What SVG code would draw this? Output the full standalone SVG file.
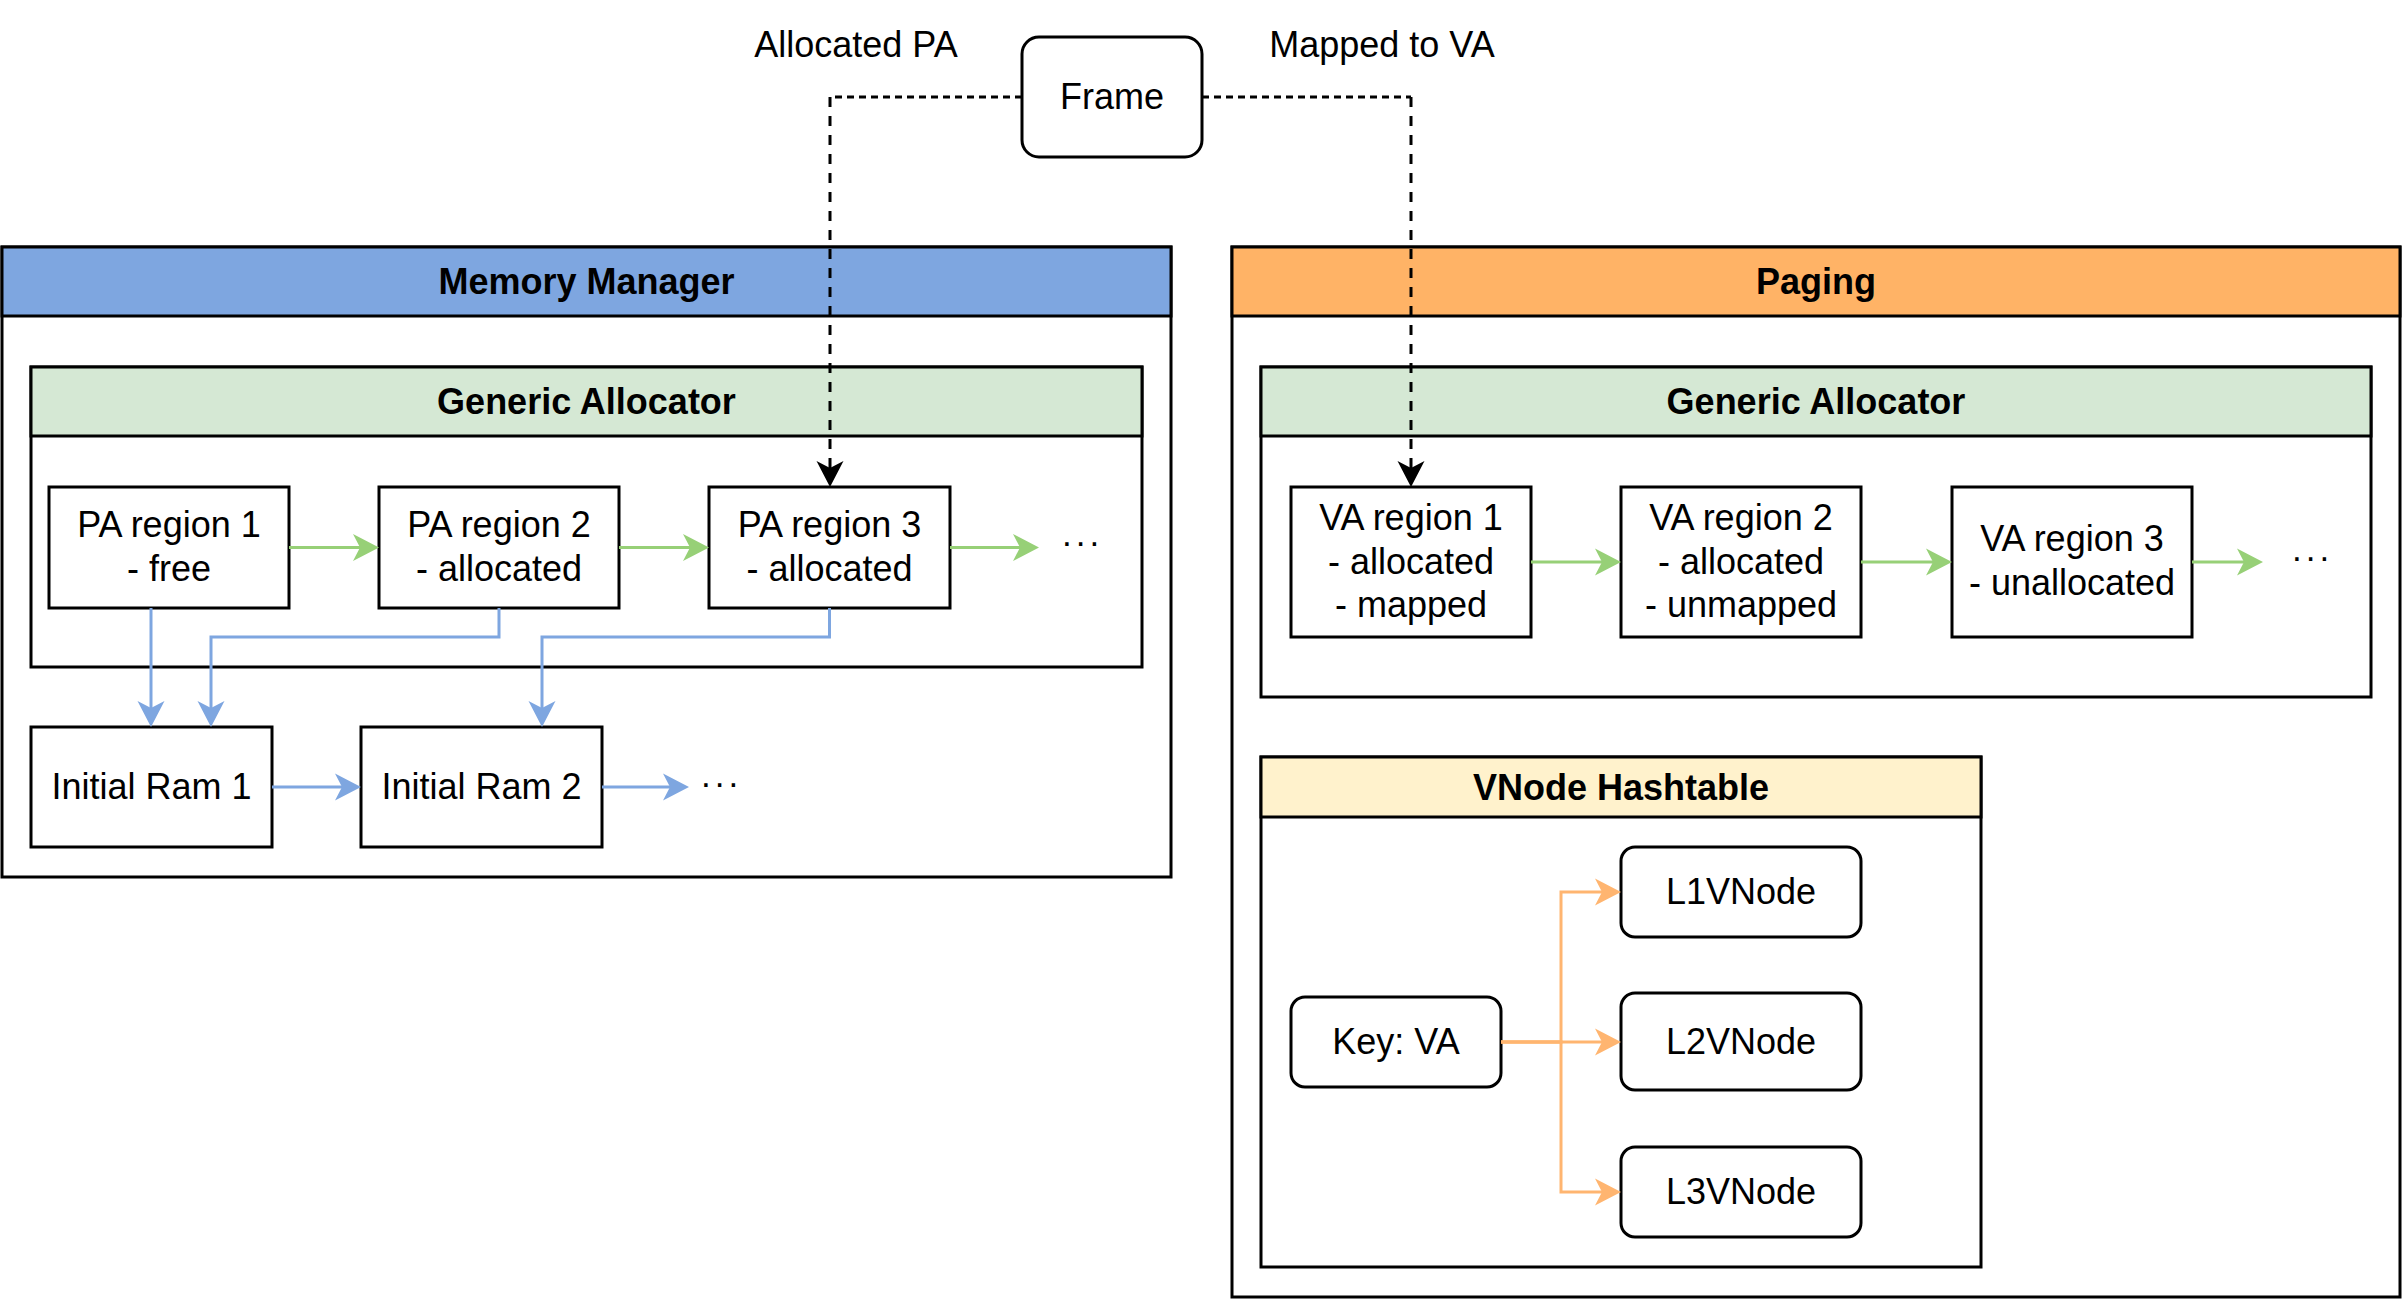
<svg xmlns="http://www.w3.org/2000/svg" width="2403" height="1299" viewBox="0 0 2403 1299">
<style>
  text { font-family: "Liberation Sans", Arial, sans-serif; font-size: 36px; fill: #000; }
  .c { text-anchor: middle; }
  .b { font-weight: bold; }
  .box { fill: #fff; stroke: #000; stroke-width: 3; }
  .hdr { stroke: #000; stroke-width: 3; }
  .g { fill: none; stroke: #97D077; stroke-width: 3; }
  .bl { fill: none; stroke: #7EA6E0; stroke-width: 3; }
  .o { fill: none; stroke: #FFB570; stroke-width: 3; }
  .dh { fill: none; stroke: #000; stroke-width: 3; stroke-dasharray: 7 5; }
  .dv { fill: none; stroke: #000; stroke-width: 3; stroke-dasharray: 10 9; }
  .dots { font-size: 35px; letter-spacing: 4px; }
</style>
<defs>
  <marker id="ag" markerUnits="userSpaceOnUse" viewBox="0 -14 27 28" refX="7" refY="0" markerWidth="27" markerHeight="28" orient="auto"><path d="M26,0 L0,-13.5 L7,0 L0,13.5 Z" fill="#97D077"/></marker>
  <marker id="ab" markerUnits="userSpaceOnUse" viewBox="0 -14 27 28" refX="7" refY="0" markerWidth="27" markerHeight="28" orient="auto"><path d="M26,0 L0,-13.5 L7,0 L0,13.5 Z" fill="#7EA6E0"/></marker>
  <marker id="ao" markerUnits="userSpaceOnUse" viewBox="0 -14 27 28" refX="7" refY="0" markerWidth="27" markerHeight="28" orient="auto"><path d="M26,0 L0,-13.5 L7,0 L0,13.5 Z" fill="#FFB570"/></marker>
  <marker id="ak" markerUnits="userSpaceOnUse" viewBox="0 -14 27 28" refX="7" refY="0" markerWidth="27" markerHeight="28" orient="auto"><path d="M26,0 L0,-13.5 L7,0 L0,13.5 Z" fill="#000"/></marker>
</defs>
<rect width="2403" height="1299" fill="#fff"/>

<g id="memory-manager">
  <rect class="box" x="2" y="247" width="1169" height="630"/>
  <rect class="hdr" x="2" y="247" width="1169" height="69" fill="#7EA6E0"/>
  <text class="c b" x="586.5" y="294">Memory Manager</text>
</g>
<g id="generic-allocator-pa">
  <rect class="box" x="31" y="367" width="1111" height="300"/>
  <rect class="hdr" x="31" y="367" width="1111" height="69" fill="#D5E8D4"/>
  <text class="c b" x="586.5" y="414">Generic Allocator</text>
</g>
<g id="paging">
  <rect class="box" x="1232" y="247" width="1168" height="1050"/>
  <rect class="hdr" x="1232" y="247" width="1168" height="69" fill="#FFB366"/>
  <text class="c b" x="1816" y="294">Paging</text>
</g>
<g id="generic-allocator-va">
  <rect class="box" x="1261" y="367" width="1110" height="330"/>
  <rect class="hdr" x="1261" y="367" width="1110" height="69" fill="#D5E8D4"/>
  <text class="c b" x="1816" y="414">Generic Allocator</text>
</g>
<g id="vnode-hashtable">
  <rect class="box" x="1261" y="757" width="720" height="510"/>
  <rect class="hdr" x="1261" y="757" width="720" height="60" fill="#FFF2CC"/>
  <text class="c b" x="1621" y="800">VNode Hashtable</text>
</g>

<g id="frame">
  <rect class="box" x="1022" y="37" width="180" height="120" rx="17"/>
  <text class="c" x="1112" y="109">Frame</text>
</g>
<g id="label-allocated-pa"><text class="c" x="856" y="57">Allocated PA</text></g>
<g id="label-mapped-to-va"><text class="c" x="1382" y="57">Mapped to VA</text></g>

<g id="pa-region-1">
  <rect class="box" x="49" y="487" width="240" height="121"/>
  <text class="c" x="169" y="537">PA region 1</text>
  <text class="c" x="169" y="581">- free</text>
</g>
<g id="pa-region-2">
  <rect class="box" x="379" y="487" width="240" height="121"/>
  <text class="c" x="499" y="537">PA region 2</text>
  <text class="c" x="499" y="581">- allocated</text>
</g>
<g id="pa-region-3">
  <rect class="box" x="709" y="487" width="241" height="121"/>
  <text class="c" x="829.5" y="537">PA region 3</text>
  <text class="c" x="829.5" y="581">- allocated</text>
</g>
<g id="pa-more"><text class="dots" x="1062" y="546">...</text></g>

<g id="initial-ram-1">
  <rect class="box" x="31" y="727" width="241" height="120"/>
  <text class="c" x="151.5" y="799">Initial Ram 1</text>
</g>
<g id="initial-ram-2">
  <rect class="box" x="361" y="727" width="241" height="120"/>
  <text class="c" x="481.5" y="799">Initial Ram 2</text>
</g>
<g id="ram-more"><text class="dots" x="701" y="787">...</text></g>

<g id="va-region-1">
  <rect class="box" x="1291" y="487" width="240" height="150"/>
  <text class="c" x="1411" y="530">VA region 1</text>
  <text class="c" x="1411" y="574">- allocated</text>
  <text class="c" x="1411" y="617">- mapped</text>
</g>
<g id="va-region-2">
  <rect class="box" x="1621" y="487" width="240" height="150"/>
  <text class="c" x="1741" y="530">VA region 2</text>
  <text class="c" x="1741" y="574">- allocated</text>
  <text class="c" x="1741" y="617">- unmapped</text>
</g>
<g id="va-region-3">
  <rect class="box" x="1952" y="487" width="240" height="150"/>
  <text class="c" x="2072" y="551">VA region 3</text>
  <text class="c" x="2072" y="595">- unallocated</text>
</g>
<g id="va-more"><text class="dots" x="2292" y="561">...</text></g>

<g id="key-va">
  <rect class="box" x="1291" y="997" width="210" height="90" rx="14"/>
  <text class="c" x="1396" y="1054">Key: VA</text>
</g>
<g id="l1vnode">
  <rect class="box" x="1621" y="847" width="240" height="90" rx="14"/>
  <text class="c" x="1741" y="904">L1VNode</text>
</g>
<g id="l2vnode">
  <rect class="box" x="1621" y="993" width="240" height="97" rx="14"/>
  <text class="c" x="1741" y="1054">L2VNode</text>
</g>
<g id="l3vnode">
  <rect class="box" x="1621" y="1147" width="240" height="90" rx="14"/>
  <text class="c" x="1741" y="1204">L3VNode</text>
</g>

<g id="connectors">
  <path class="dh" d="M1022,97 H830"/>
  <path class="dv" d="M830,97 V468" marker-end="url(#ak)"/>
  <path class="dh" d="M1202,97 H1411"/>
  <path class="dv" d="M1411,97 V468" marker-end="url(#ak)"/>

  <path class="g" d="M289,547.5 H360" marker-end="url(#ag)"/>
  <path class="g" d="M619,547.5 H690" marker-end="url(#ag)"/>
  <path class="g" d="M950,547.5 H1020" marker-end="url(#ag)"/>
  <path class="g" d="M1531,562 H1602" marker-end="url(#ag)"/>
  <path class="g" d="M1861,562 H1933" marker-end="url(#ag)"/>
  <path class="g" d="M2192,562 H2244" marker-end="url(#ag)"/>

  <path class="bl" d="M151,608 V708" marker-end="url(#ab)"/>
  <path class="bl" d="M499,608 V637 H211 V708" marker-end="url(#ab)"/>
  <path class="bl" d="M829.5,608 V637 H542 V708" marker-end="url(#ab)"/>
  <path class="bl" d="M272,787 H342" marker-end="url(#ab)"/>
  <path class="bl" d="M602,787 H670" marker-end="url(#ab)"/>

  <path class="o" d="M1501,1042 H1561 V892 H1602" marker-end="url(#ao)"/>
  <path class="o" d="M1501,1042 H1602" marker-end="url(#ao)"/>
  <path class="o" d="M1501,1042 H1561 V1192 H1602" marker-end="url(#ao)"/>
</g>
</svg>
